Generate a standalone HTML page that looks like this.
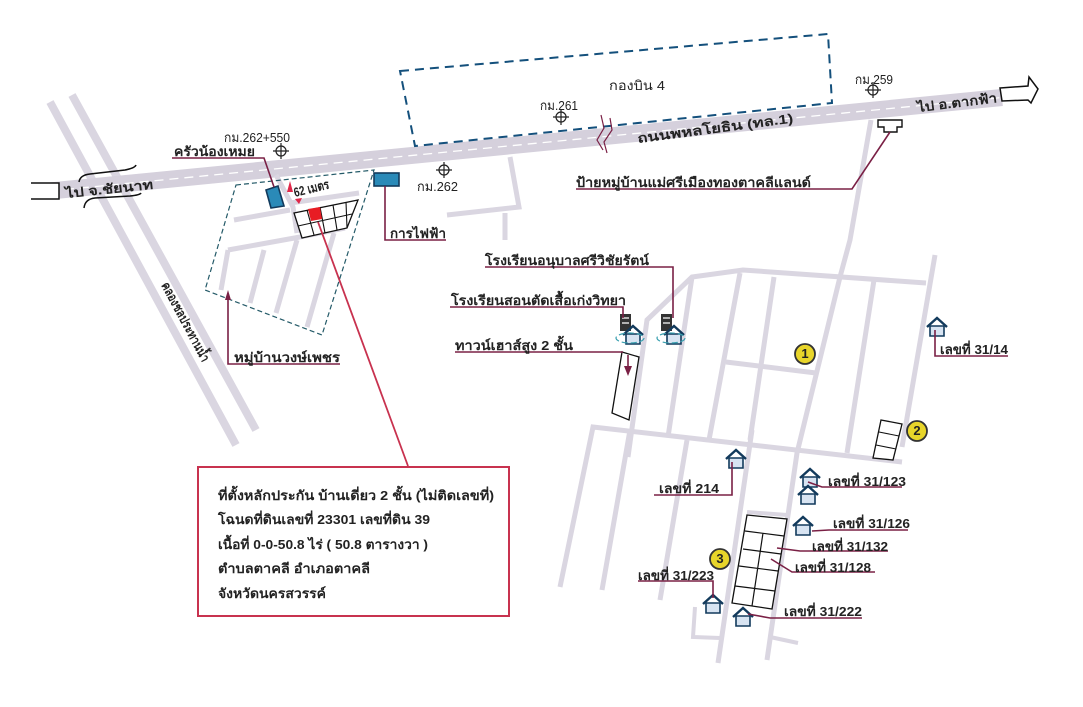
<!DOCTYPE html>
<html><head><meta charset="utf-8">
<style>
html,body{margin:0;padding:0;background:#fff}
svg{display:block}
text{font-family:"Liberation Sans","DejaVu Sans","Noto Sans CJK SC",sans-serif;fill:#222;font-size:13px}
.b{font-weight:bold}
.r{fill:none;stroke:#dad6e1;stroke-width:5}
.l{fill:none;stroke:#7a2045;stroke-width:1.6}
.g{fill:#fff;stroke:#111;stroke-width:1.3}
.h{fill:#d8e4f2;stroke:#123a5c;stroke-width:1.6}
</style></head><body>
<svg width="1083" height="707" viewBox="0 0 1083 707" xmlns="http://www.w3.org/2000/svg">
<defs>
<g id="t"><circle r="5" fill="none" stroke="#222" stroke-width="1.2"/><path d="M-8,0H8M0,-8V8" stroke="#222" stroke-width="1.2"/></g>
<g id="house"><path class="h" d="M-7,1V11H7V1Z"/><path d="M-10,2L0,-7L10,2" fill="none" stroke="#123a5c" stroke-width="2.4"/></g>
<g id="school"><path d="M-10,-14H1V3H-10Z" fill="#333"/><path d="M-8,-10H-1M-8,-5H-1" stroke="#fff" stroke-width="1.2"/><use href="#house" x="3" y="5"/><ellipse cx="0" cy="10" rx="14" ry="5" fill="none" stroke="#3aa0b0" stroke-width="1.2" stroke-dasharray="6 3"/></g>
<g id="num"><circle r="10" fill="#e8d52a" stroke="#333" stroke-width="1.8"/></g>
</defs>

<!-- canal -->
<path class="r" d="M50,102L236,445M72,95L256,430" style="stroke-width:8"/>

<!-- main road -->
<path d="M50,191L1002,97.5" stroke="#d5d0dc" stroke-width="17" fill="none"/>
<path d="M50,191L1002,97.5" stroke="#fff" stroke-width="1.3" stroke-dasharray="9 6" fill="none"/>

<!-- side roads -->
<path class="r" d="M510,157L519,207L447,215M505,213V240"/>
<path class="r" d="M359,193L290,203M234,220L290,210M276,175L293,207L297,233M228,250L300,237L345,228M228,250L221,290M264,250L250,303M297,240L276,313M334,233L307,327"/>
<path class="r" d="M871,120L850,240L840,277L797,453L767,660"/>
<path class="r" d="M628,457L647,320L692,277L743,270L926,283"/>
<path class="r" d="M935,255L902,447"/>
<path class="r" d="M692,277L668,437M740,273L709,440M774,277L750,440M874,280L847,453M726,362L816,373"/>
<path class="r" d="M560,587L593,427L902,462"/>
<path class="r" d="M630,430L602,590M687,440L660,600M752,430L718,663"/>
<path class="r" d="M695,607L693,637L720,638M770,637L798,643M747,512L787,515" style="stroke-width:4"/>

<!-- dashed areas -->
<path d="M400,71L828,34L832,103L415,146Z" fill="none" stroke="#14507c" stroke-width="2" stroke-dasharray="9 6"/>
<path d="M236,185L374,170L322,335L205,290Z" fill="none" stroke="#245a68" stroke-width="1.2" stroke-dasharray="5 3"/>

<!-- road break -->
<path d="M601,115L604,128L597,140L603,150M610,118L612,130L604,142L607,153" fill="none" stroke="#7a2045" stroke-width="1.2"/>

<!-- arrows at ends -->
<path d="M31,183H59V199H31" fill="#fff" stroke="#111" stroke-width="1.5"/>
<path d="M1000,88L1028,86L1029,77L1038,89L1031,103L1028,100L1002,101Z" fill="#fff" stroke="#111" stroke-width="1.5"/>
<path d="M79,182Q80,175 90,174L125,170Q135,168 136,165" fill="none" stroke="#111" stroke-width="1.5"/>
<path d="M84,208Q85,199 95,198L130,196Q140,195 141,193" fill="none" stroke="#111" stroke-width="1.5"/>

<!-- crosshairs -->
<use href="#t" x="281" y="151"/><use href="#t" x="444" y="170"/><use href="#t" x="561" y="117"/><use href="#t" x="873" y="90"/>

<!-- small buildings -->
<path d="M266,190L278,186L284,206L271,208Z" fill="#2a8ab8" stroke="#123a5c" stroke-width="1.6"/>
<rect x="374" y="173" width="25" height="13" fill="#2a8ab8" stroke="#123a5c" stroke-width="1.6"/>
<path d="M878,120H902V127H897V132H884V127H878Z" fill="#fff" stroke="#111" stroke-width="1.4"/>

<!-- lots -->
<path class="g" d="M294,213L358,200L347,228L302,238Z"/>
<path d="M298,226L352,214M307,210L314,235M320,207L325,233M333,205L337,230M346,202L347,228" stroke="#111" stroke-width="1.1"/>
<path d="M308,209L320,207L322,219L311,221Z" fill="#e81c24"/>
<path class="g" d="M622,352L639,357L629,420L612,413Z"/>
<path class="g" d="M881,420L902,424L893,460L873,458Z"/>
<path d="M879,432L899,436M876,445L896,449" stroke="#111" stroke-width="1.1"/>
<path class="g" d="M747,515L787,519L772,609L732,603Z"/>
<path d="M745,531L784,536M743,549L781,554M739,566L778,571M735,586L775,591M763,533L752,606" stroke="#111" stroke-width="1.2" fill="none"/>

<!-- houses / schools -->
<use href="#school" x="630" y="328"/><use href="#school" x="671" y="328"/>
<use href="#house" x="937" y="325"/><use href="#house" x="736" y="457"/><use href="#house" x="810" y="476"/><use href="#house" x="808" y="493"/><use href="#house" x="803" y="524"/><use href="#house" x="713" y="602"/><use href="#house" x="743" y="615"/>
<use href="#num" x="805" y="354"/><use href="#num" x="917" y="431"/><use href="#num" x="720" y="559"/>
<text x="805" y="358" font-size="11" text-anchor="middle" class="b">1</text>
<text x="917" y="435" font-size="11" text-anchor="middle" class="b">2</text>
<text x="720" y="563" font-size="11" text-anchor="middle" class="b">3</text>

<!-- leaders -->
<path class="l" d="M172,158H264L274,187"/>
<path class="l" d="M385,186V240H446"/>
<path class="l" d="M228,294V364H340"/>
<path class="l" d="M576,189H852L890,132"/>
<path class="l" d="M485,267H673V318"/>
<path class="l" d="M450,307H623V318"/>
<path class="l" d="M455,352H623"/>
<path class="l" d="M628,355V368"/>
<path class="l" d="M935,330V356H1008"/>
<path class="l" d="M654,495H732V462"/>
<path class="l" d="M808,482L822,487H902"/>
<path class="l" d="M812,531L829,530H908"/>
<path class="l" d="M777,548L800,551H888"/>
<path class="l" d="M771,559L792,572H875"/>
<path class="l" d="M638,581H713V598"/>
<path class="l" d="M748,614L770,618H862"/>
<path d="M318,222L408,466" stroke="#c8324f" stroke-width="1.8" fill="none"/>
<path d="M287,192L290,181L293,192ZM302,198L295,199L299,204Z" fill="#e0284a"/>
<path d="M628,376L624,366H632ZM225,300L228,290L231,300Z" fill="#7a2045"/>

<!-- box -->
<rect x="198" y="467" width="311" height="149" fill="#fff" stroke="#c8324f" stroke-width="2"/>
<g class="b" font-size="12.5">
<text x="218" y="500" textLength="276" lengthAdjust="spacingAndGlyphs">ที่ตั้งหลักประกัน บ้านเดี่ยว 2 ชั้น (ไม่ติดเลขที่)</text>
<text x="218" y="524" textLength="212" lengthAdjust="spacingAndGlyphs">โฉนดที่ดินเลขที่ 23301 เลขที่ดิน 39</text>
<text x="218" y="549" textLength="210" lengthAdjust="spacingAndGlyphs">เนื้อที่ 0-0-50.8 ไร่ ( 50.8 ตารางวา )</text>
<text x="218" y="573" textLength="152" lengthAdjust="spacingAndGlyphs">ตำบลตาคลี  อำเภอตาคลี</text>
<text x="218" y="598" textLength="108" lengthAdjust="spacingAndGlyphs">จังหวัดนครสวรรค์</text>
</g>

<!-- labels -->
<g class="b">
<text x="609" y="90" font-weight="normal" textLength="56" lengthAdjust="spacingAndGlyphs">กองบิน 4</text>
<text x="540" y="110" font-weight="normal" font-size="12" textLength="38" lengthAdjust="spacingAndGlyphs">กม.261</text>
<text x="855" y="84" font-size="12" font-weight="normal" textLength="38" lengthAdjust="spacingAndGlyphs">กม.259</text>
<text x="224" y="142" font-size="12" font-weight="normal" textLength="66" lengthAdjust="spacingAndGlyphs">กม.262+550</text>
<text x="417" y="191" font-size="12" font-weight="normal" textLength="41" lengthAdjust="spacingAndGlyphs">กม.262</text>
<text x="174" y="156" textLength="81" lengthAdjust="spacingAndGlyphs">ครัวน้องเหมย</text>
<text x="390" y="238" textLength="56" lengthAdjust="spacingAndGlyphs">การไฟฟ้า</text>
<text x="234" y="362" textLength="106" lengthAdjust="spacingAndGlyphs">หมู่บ้านวงษ์เพชร</text>
<text x="576" y="187" textLength="235" lengthAdjust="spacingAndGlyphs">ป้ายหมู่บ้านแม่ศรีเมืองทองตาคลีแลนด์</text>
<text x="485" y="265" textLength="164" lengthAdjust="spacingAndGlyphs">โรงเรียนอนุบาลศรีวิชัยรัตน์</text>
<text x="451" y="305" textLength="175" lengthAdjust="spacingAndGlyphs">โรงเรียนสอนตัดเสื้อเก่งวิทยา</text>
<text x="455" y="350" textLength="118" lengthAdjust="spacingAndGlyphs">ทาวน์เฮาส์สูง 2 ชั้น</text>
<text x="940" y="354" font-size="12" textLength="68" lengthAdjust="spacingAndGlyphs">เลขที่ 31/14</text>
<text x="659" y="493" font-size="12" textLength="60" lengthAdjust="spacingAndGlyphs">เลขที่ 214</text>
<text x="828" y="486" font-size="12" textLength="78" lengthAdjust="spacingAndGlyphs">เลขที่ 31/123</text>
<text x="833" y="528" font-size="12" textLength="77" lengthAdjust="spacingAndGlyphs">เลขที่ 31/126</text>
<text x="812" y="551" font-size="12" textLength="76" lengthAdjust="spacingAndGlyphs">เลขที่ 31/132</text>
<text x="795" y="572" font-size="12" textLength="76" lengthAdjust="spacingAndGlyphs">เลขที่ 31/128</text>
<text x="638" y="580" font-size="12" textLength="76" lengthAdjust="spacingAndGlyphs">เลขที่ 31/223</text>
<text x="784" y="616" font-size="12" textLength="78" lengthAdjust="spacingAndGlyphs">เลขที่ 31/222</text>
<text x="0" y="0" font-size="16" textLength="157" lengthAdjust="spacingAndGlyphs" transform="translate(638,143) rotate(-7.5)">ถนนพหลโยธิน (ทล.1)</text>
<text x="0" y="0" font-size="17" textLength="80" lengthAdjust="spacingAndGlyphs" transform="translate(918,112) rotate(-7)">ไป อ.ตากฟ้า</text>
<text x="0" y="0" font-size="16" textLength="88" lengthAdjust="spacingAndGlyphs" transform="translate(66,198) rotate(-6)">ไป จ.ชัยนาท</text>
<text x="0" y="0" font-size="11" textLength="36" lengthAdjust="spacingAndGlyphs" transform="translate(295,197) rotate(-14)">62 เมตร</text>
<text x="0" y="0" font-size="11" textLength="88" lengthAdjust="spacingAndGlyphs" transform="translate(161,285) rotate(62)">คลองชลประทานน้ำ</text>
</g>
</svg>
</body></html>
